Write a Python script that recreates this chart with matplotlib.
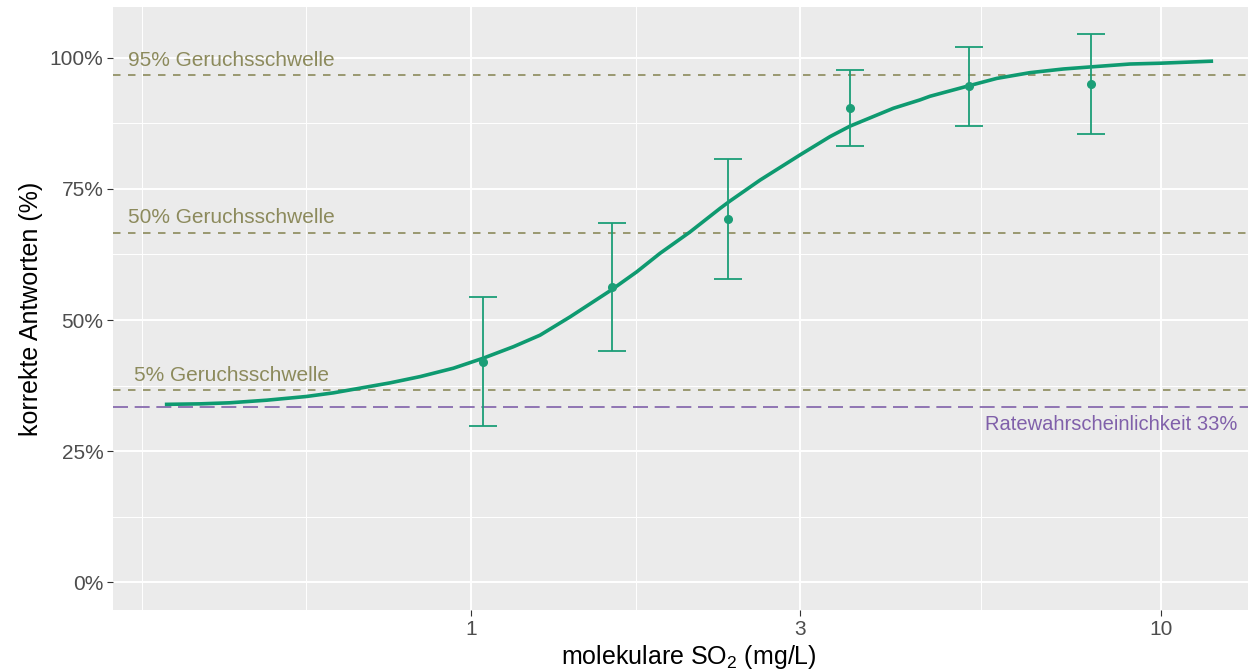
import numpy as np
import matplotlib
matplotlib.use("Agg")
import matplotlib.pyplot as plt

plt.rcParams['font.family'] = ['Liberation Sans', 'DejaVu Sans']
plt.rcParams['mathtext.fontset'] = 'custom'
plt.rcParams['mathtext.rm'] = 'Liberation Sans'
plt.rcParams['mathtext.it'] = 'Liberation Sans:italic'

# observed points (molecular SO2 in mg/L, proportion correct, error half width)
obs_x = [1.04, 1.60, 2.36, 3.54, 5.27, 7.91]
obs_y = [0.420, 0.563, 0.693, 0.905, 0.946, 0.950]
obs_err = [0.123, 0.123, 0.115, 0.073, 0.075, 0.096]

# fitted curve
curve_x = [0.360, 0.405, 0.447, 0.506, 0.577, 0.632, 0.691, 0.763, 0.844, 0.943,
           1.041, 1.152, 1.259, 1.392, 1.596, 1.739, 1.878, 2.077, 2.296, 2.373,
           2.624, 2.998, 3.314, 3.543, 4.093, 4.474, 4.627, 5.268, 5.779, 6.458,
           7.218, 7.915, 9.02, 9.97, 11.9]
curve_y = [0.339, 0.340, 0.342, 0.347, 0.354, 0.361, 0.370, 0.380, 0.392, 0.408,
           0.427, 0.449, 0.471, 0.506, 0.557, 0.592, 0.627, 0.668, 0.713, 0.727,
           0.767, 0.815, 0.850, 0.870, 0.904, 0.920, 0.927, 0.947, 0.961, 0.972,
           0.979, 0.983, 0.9885, 0.990, 0.994]

# threshold lines
thr_labels = ["95% Geruchsschwelle", "50% Geruchsschwelle", "5% Geruchsschwelle"]
thr_y = [0.9667, 0.6667, 0.3667]
chance_y = 1 / 3
chance_label = "Ratewahrscheinlichkeit 33%"

x_ticks = [1, 3, 10]
x_ticklabels = ["1", "3", "10"]
y_ticks = [0, 0.25, 0.5, 0.75, 1.0]
y_ticklabels = ["0%", "25%", "50%", "75%", "100%"]

W, H = 1248, 671
fig = plt.figure(figsize=(W / 100, H / 100), dpi=100)
left, right, top, bottom = 113, 1265, 7, 610
ax = fig.add_axes([left / W, 1 - bottom / H, (right - left) / W, (bottom - top) / H])
ax.set_facecolor('#EBEBEB')
for s in ax.spines.values():
    s.set_visible(False)

ax.set_xscale('log')
ax.set_xlim(0.3028, 14.15)
ax.set_ylim(-0.0534, 1.0973)

# grid
for v in [1 / 3, 0.5774, 1.732, 5.477]:
    ax.axvline(v, color='white', lw=0.7, zorder=0)
for v in x_ticks:
    ax.axvline(v, color='white', lw=1.4, zorder=0)
for v in [0.125, 0.375, 0.625, 0.875]:
    ax.axhline(v, color='white', lw=0.7, zorder=0)
for v in y_ticks:
    ax.axhline(v, color='white', lw=1.4, zorder=0)

ax.set_xticks(x_ticks)
ax.set_xticklabels(x_ticklabels)
ax.xaxis.set_minor_locator(matplotlib.ticker.NullLocator())
ax.set_yticks(y_ticks)
ax.set_yticklabels(y_ticklabels)
ax.tick_params(axis='both', colors='#333333', labelcolor='#4D4D4D', labelsize=15,
               length=4, width=0.8, pad=3)

olive = '#8C8A5C'
purple = '#8060AA'
green = '#0E9A70'

for lab, yv in zip(thr_labels, thr_y):
    ax.axhline(yv, color=olive, lw=1.2, linestyle=(0, (4.5, 4.5)), zorder=1)
    ax.text(0.449, yv + 0.028, lab, color=olive, fontsize=15, ha='center', va='center')

ax.axhline(chance_y, color=purple, lw=1.2, linestyle=(0, (9, 4)), zorder=1)
ax.text(5.55, 0.3015, chance_label, color=purple, fontsize=14.5, ha='left', va='center')

ax.plot(curve_x, curve_y, color=green, lw=2.6, zorder=3, solid_capstyle='butt',
        solid_joinstyle='round')
ax.errorbar(obs_x, obs_y, yerr=obs_err, fmt='o', color='#1B9E77', ms=5.5,
            elinewidth=1.3, capsize=10, capthick=1.3, zorder=4)

ax.set_xlabel('molekulare SO$_2$ (mg/L)', fontsize=18, color='black', labelpad=3)
ax.set_ylabel('korrekte Antworten (%)', fontsize=18, color='black', labelpad=5)

fig.savefig('out.png', dpi=100)
